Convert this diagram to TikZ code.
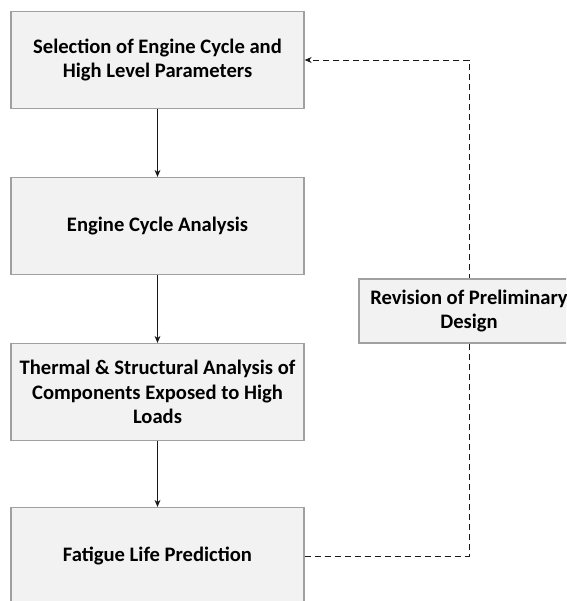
\documentclass[tikz,border=0pt]{standalone}
\usepackage{fontspec}
\setmainfont{Carlito}
\usetikzlibrary{arrows.meta}
\definecolor{boxfill}{RGB}{242,242,242}
\definecolor{boxline}{RGB}{160,160,160}
\definecolor{linkline}{RGB}{25,25,25}
\begin{document}
\begin{tikzpicture}[x=1pt,y=-1pt,
		stagebox/.style={rectangle,draw=boxline,fill=boxfill,line width=1.3pt,
			minimum width=293pt,minimum height=97pt,inner sep=0pt,align=center,
			font=\fontsize{20.6}{24.4}\selectfont\bfseries},
		>={Stealth[length=7pt,width=6pt]}]
		\useasboundingbox (0,0) rectangle (566,601);
		\clip (0,0) rectangle (566,601);
		\begin{scope}[every node/.style={stagebox}]
			\node (sel) at (157.5,60) {Selection of Engine Cycle and\\High Level Parameters};
			\node (cyc) at (157.5,226) {Engine Cycle Analysis};
			\node (thm) at (157.5,392) {Thermal \& Structural Analysis of\\Components Exposed to High\\Loads};
			\node (fat) at (157.5,556) {Fatigue Life Prediction};
		\end{scope}
		\begin{scope}[draw=linkline,line width=0.9pt]
			\path[->] (sel) edge (cyc);
			\path[->] (cyc) edge (thm);
			\path[->] (thm) edge (fat);
		\end{scope}
		% feedback loop
		\coordinate (fbb) at (469,556);
		\coordinate (fbt) at (469,60);
		\draw[->,linkline,line width=0.9pt,dash pattern=on 6pt off 4pt] (fat.east) -- (fbb) -- (fbt) -- (sel.east);
		\node[stagebox,minimum width=220pt,minimum height=64pt] (rev) at (469,311) {Revision of Preliminary\\Design};
	\end{tikzpicture}
\end{document}
